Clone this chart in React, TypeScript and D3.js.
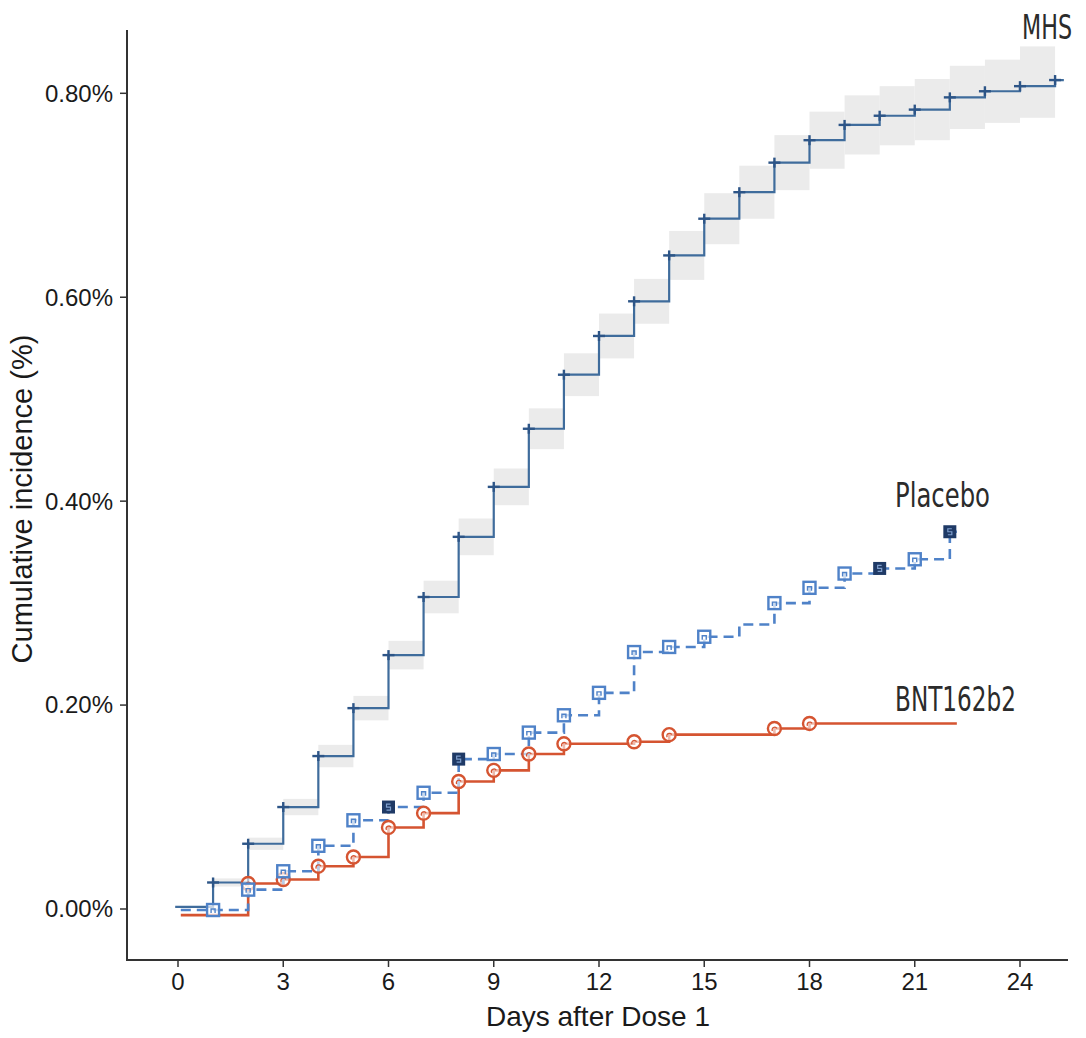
import React from "react";
import * as d3 from "d3";

// ---------- data ----------
const xTicks = [0, 3, 6, 9, 12, 15, 18, 21, 24];
const yTicks = [0, 0.2, 0.4, 0.6, 0.8];

// MHS (cumulative incidence, %) step values
const mhsDays = [-0.08, 1, 2, 3, 4, 5, 6, 7, 8, 9, 10, 11, 12, 13, 14, 15, 16, 17, 18, 19, 20, 21, 22, 23, 24, 25];
const mhsValues = [0.002, 0.026, 0.064, 0.100, 0.150, 0.197, 0.249, 0.306, 0.365, 0.414, 0.471, 0.524, 0.562, 0.596, 0.641, 0.677, 0.703, 0.732, 0.754, 0.769, 0.778, 0.784, 0.796, 0.802, 0.807, 0.813];
const mhsEnd = 25.25;
// confidence band per interval [day, day+1]
const bandDays = [1, 2, 3, 4, 5, 6, 7, 8, 9, 10, 11, 12, 13, 14, 15, 16, 17, 18, 19, 20, 21, 22, 23, 24];
const bandLower = [0.022, 0.058, 0.092, 0.139, 0.185, 0.235, 0.290, 0.347, 0.396, 0.451, 0.503, 0.540, 0.574, 0.617, 0.652, 0.677, 0.705, 0.726, 0.740, 0.749, 0.754, 0.765, 0.771, 0.776];
const bandUpper = [0.030, 0.070, 0.108, 0.161, 0.209, 0.263, 0.322, 0.383, 0.432, 0.491, 0.545, 0.584, 0.618, 0.665, 0.702, 0.729, 0.759, 0.782, 0.798, 0.807, 0.814, 0.827, 0.833, 0.846];

// Placebo
const placeboDays = [0.08, 1, 2, 3, 4, 5, 6, 7, 8, 9, 10, 11, 12, 13, 14, 15, 16, 17, 18, 19, 20, 21, 22];
const placeboValues = [-0.001, -0.001, 0.019, 0.037, 0.062, 0.087, 0.100, 0.114, 0.147, 0.152, 0.173, 0.190, 0.212, 0.252, 0.257, 0.267, 0.279, 0.300, 0.315, 0.329, 0.334, 0.343, 0.370];
const placeboMarkers = ["none", "open", "open", "open", "open", "open", "filled", "open", "filled", "open", "open", "open", "open", "open", "open", "open", "none", "open", "open", "open", "filled", "open", "filled"];
const placeboEnd = 22.2;

// BNT162b2
const bntDays = [0.08, 2, 3, 4, 5, 6, 7, 8, 9, 10, 11, 13, 14, 17, 18];
const bntValues = [-0.006, 0.025, 0.029, 0.042, 0.051, 0.080, 0.094, 0.125, 0.136, 0.152, 0.162, 0.164, 0.171, 0.177, 0.182];
const bntEnd = 22.2;

const seriesLabels = ["MHS", "Placebo", "BNT162b2"];

// ---------- styling ----------
const W = 1086;
const H = 1038;
const mhsColor = "#3f6c9c";
const crossColor = "#2d5587";
const bandColor = "#ebebeb";
const placeboColor = "#4f82c8";
const darkSquare = "#1f3a66";
const bntColor = "#d55431";
const axisColor = "#333333";
const textColor = "#1a1a1a";

export default function App() {
  const x = d3.scaleLinear().domain([0, 24]).range([178, 1020]);
  const y = d3.scaleLinear().domain([0, 0.8]).range([909, 93.3]);

  const step = d3
    .line<[number, number]>()
    .x((d) => x(d[0]))
    .y((d) => y(d[1]))
    .curve(d3.curveStepAfter);

  const mhsPts: [number, number][] = mhsDays.map((d, i) => [d, mhsValues[i]]);
  mhsPts.push([mhsEnd, mhsValues[mhsValues.length - 1]]);
  const plPts: [number, number][] = placeboDays.map((d, i) => [d, placeboValues[i]]);
  plPts.push([placeboEnd, placeboValues[placeboValues.length - 1]]);
  const bnPts: [number, number][] = bntDays.map((d, i) => [d, bntValues[i]]);
  bnPts.push([bntEnd, bntValues[bntValues.length - 1]]);

  const labelFont = "'DejaVu Sans Condensed', 'Liberation Sans Narrow', 'DejaVu Sans', sans-serif";
  const axisFont = "'Liberation Sans', Arial, sans-serif";

  return (
    <svg width={W} height={H} style={{ position: "absolute", left: 0, top: 0, background: "#fff" }}>
      <rect x={0} y={0} width={W} height={H} fill="#ffffff" />
      {/* confidence band */}
      <g>
        {bandDays.map((d, i) => (
          <rect
            key={"b" + i}
            x={x(d)}
            width={x(d + 1) - x(d)}
            y={y(bandUpper[i])}
            height={y(bandLower[i]) - y(bandUpper[i])}
            fill={bandColor}
          />
        ))}
      </g>

      {/* axes */}
      <line x1={127} x2={127} y1={30} y2={960} stroke={axisColor} strokeWidth={2} />
      <line x1={126} x2={1068} y1={960} y2={960} stroke={axisColor} strokeWidth={2} />
      {yTicks.map((t) => (
        <g key={"yt" + t}>
          <line x1={120} x2={127} y1={y(t)} y2={y(t)} stroke={axisColor} strokeWidth={1.5} />
          <text
            x={113}
            y={y(t)}
            dy="0.35em"
            textAnchor="end"
            fontFamily={axisFont}
            fontSize={24}
            fill={textColor}
          >
            {d3.format(".2f")(t) + "%"}
          </text>
        </g>
      ))}
      {xTicks.map((t) => (
        <g key={"xt" + t}>
          <line x1={x(t)} x2={x(t)} y1={960} y2={967} stroke={axisColor} strokeWidth={1.5} />
          <text x={x(t)} y={990} textAnchor="middle" fontFamily={axisFont} fontSize={24} fill={textColor}>
            {t}
          </text>
        </g>
      ))}
      <text x={598} y={1026} textAnchor="middle" fontFamily={axisFont} fontSize={28} fill={textColor}>
        Days after Dose 1
      </text>
      <text
        transform={`translate(32, 499) rotate(-90)`}
        textAnchor="middle"
        fontFamily={axisFont}
        fontSize={29}
        fill={textColor}
      >
        Cumulative incidence (%)
      </text>

      {/* MHS line */}
      <path d={step(mhsPts) || ""} fill="none" stroke={mhsColor} strokeWidth={2.2} />
      {mhsDays.slice(1).map((d, i) => {
        const cx = x(d);
        const cy = y(mhsValues[i + 1]);
        return (
          <g key={"c" + i} stroke={crossColor} strokeWidth={2.4}>
            <line x1={cx - 6} x2={cx + 6} y1={cy} y2={cy} />
            <line x1={cx} x2={cx} y1={cy - 5} y2={cy + 5} />
          </g>
        );
      })}

      {/* BNT line */}
      <path d={step(bnPts) || ""} fill="none" stroke={bntColor} strokeWidth={2.6} />
      {/* Placebo line */}
      <path d={step(plPts) || ""} fill="none" stroke={placeboColor} strokeWidth={2.6} strokeDasharray="10,6" />

      {/* BNT markers */}
      {bntDays.slice(1).map((d, i) => {
        const cx = x(d);
        const cy = y(bntValues[i + 1]);
        return (
          <g key={"o" + i}>
            <circle cx={cx} cy={cy} r={6.5} fill="#ffffff" fillOpacity={0.6} stroke={bntColor} strokeWidth={2.4} />
            <path
              d={`M${cx - 2},${cy + 2.5} A2.5,2.5 0 1 1 ${cx + 2.5},${cy}`}
              fill="none"
              stroke={bntColor}
              strokeWidth={1.3}
            />
          </g>
        );
      })}

      {/* Placebo markers */}
      {placeboDays.map((d, i) => {
        const m = placeboMarkers[i];
        if (m === "none") return null;
        const cx = x(d);
        const cy = y(placeboValues[i]);
        if (m === "filled") {
          return (
            <g key={"s" + i}>
              <rect x={cx - 6.5} y={cy - 6.5} width={13} height={13} fill={darkSquare} />
              <path
                d={`M${cx + 2},${cy - 3} H${cx - 2} V${cy} H${cx + 2} V${cy + 3} H${cx - 2}`}
                fill="none"
                stroke="#7f9fce"
                strokeWidth={1.2}
              />
            </g>
          );
        }
        return (
          <g key={"s" + i}>
            <rect
              x={cx - 6}
              y={cy - 6}
              width={12}
              height={12}
              fill="#ffffff"
              fillOpacity={0.7}
              stroke={placeboColor}
              strokeWidth={2.4}
            />
            <path
              d={`M${cx - 2},${cy + 3} V${cy - 1} H${cx + 2} V${cy + 3}`}
              fill="none"
              stroke={placeboColor}
              strokeWidth={1.4}
            />
          </g>
        );
      })}

      {/* series labels */}
      <text x={1022} y={39} fontFamily={labelFont} fontSize={33} fill="#2b2b2b" textLength={50} lengthAdjust="spacingAndGlyphs">
        {seriesLabels[0]}
      </text>
      <text x={895} y={507} fontFamily={labelFont} fontSize={33} fill="#2b2b2b" textLength={95} lengthAdjust="spacingAndGlyphs">
        {seriesLabels[1]}
      </text>
      <text x={895} y={711} fontFamily={labelFont} fontSize={34} fill="#2b2b2b" textLength={121} lengthAdjust="spacingAndGlyphs">
        {seriesLabels[2]}
      </text>
    </svg>
  );
}
